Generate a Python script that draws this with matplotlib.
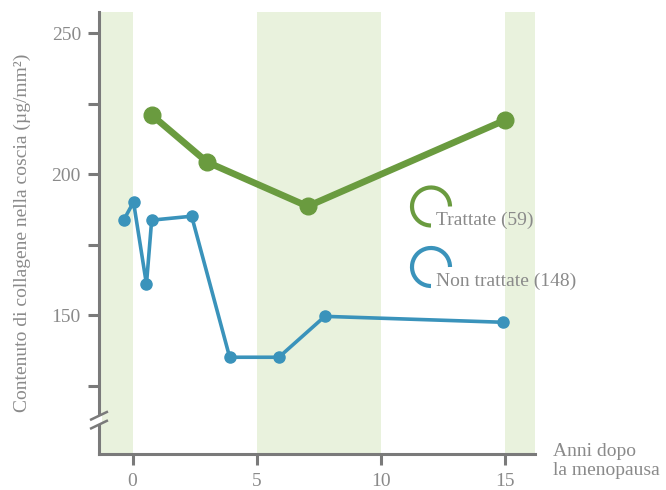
import numpy as np
import matplotlib.pyplot as plt
from matplotlib.patches import Arc, Rectangle

plt.rcParams['font.family'] = ['Liberation Serif', 'DejaVu Serif']

# dati
anni_trattate = [0.77, 3.0, 7.05, 15.0]
coll_trattate = [221, 204.3, 188.6, 219.2]
anni_non = [-0.36, 0.04, 0.56, 0.77, 2.38, 3.91, 5.89, 7.74, 14.92]
coll_non = [183.7, 190.1, 161, 183.7, 185.1, 135.1, 135.1, 149.6, 147.5]
bande = [(-2, 0), (5, 10), (15, 17)]
label_trattate = 'Trattate (59)'
label_non = 'Non trattate (148)'

verde = '#6a9b3f'
blu = '#3a93bb'
grigio = '#7a7a7a'
testo = '#8a8a8a'
sfondo = '#e9f2dd'

fig = plt.figure(figsize=(6.66, 4.9), dpi=100)
ax = fig.add_axes([99/666, 1-454/490, (535-99)/666, (454-12)/490])

for a, b in bande:
    ax.axvspan(a, b, color=sfondo, lw=0, zorder=0)

ax.plot(anni_trattate, coll_trattate, color=verde, lw=4.8, marker='o', ms=12, zorder=3,
        solid_capstyle='round')
ax.plot(anni_non, coll_non, color=blu, lw=2.6, marker='o', ms=8, zorder=3)

ax.set_xlim(-1.35, 16.2)
ax.set_ylim(100.8, 257.5)
ax.set_xticks([0, 5, 10, 15])
ax.set_yticks([150, 200, 250])
ax.set_yticks([125, 175, 225], minor=True)

for s in ['top', 'right']:
    ax.spines[s].set_visible(False)
for s in ['left', 'bottom']:
    ax.spines[s].set_color(grigio)
    ax.spines[s].set_linewidth(2.2)
ax.tick_params(which='both', direction='out', length=8, width=2.2, color=grigio,
               labelcolor=testo, labelsize=14)
ax.tick_params(axis='x', pad=6)
ax.tick_params(axis='y', pad=5)

ax.set_ylabel('Contenuto di collagene nella coscia (µg/mm²)', color=testo, fontsize=14,
              labelpad=15)
ax.text(553, 490-461, 'Anni dopo\nla menopausa', transform=None, color=testo, fontsize=14,
        ha='left', va='center', linespacing=1.1)

# interruzione asse
ax.add_patch(Rectangle((-0.008, 0.067), 0.016, 0.02, transform=ax.transAxes,
                       color='white', lw=0, clip_on=False, zorder=5))
for y0 in (0.058, 0.078):
    ax.plot([-0.018, 0.018], [y0, y0 + 0.017], transform=ax.transAxes, color=grigio,
            lw=1.8, clip_on=False, zorder=6)

# legenda
for cy, col, lab in [(206.5, verde, label_trattate), (267, blu, label_non)]:
    fig.patches.append(Arc((431/666, 1-cy/490), 38/666, 38/490, theta1=0, theta2=270,
                           transform=fig.transFigure, color=col, lw=3))
    fig.text(436/666, 1-(cy+14)/490, lab, color=testo, fontsize=14, ha='left', va='center')

plt.savefig('out.png', dpi=100)
